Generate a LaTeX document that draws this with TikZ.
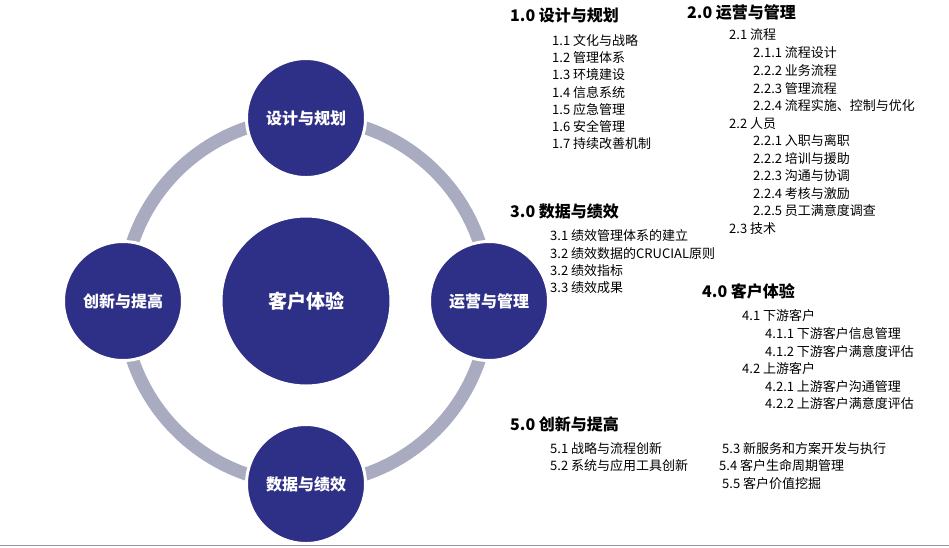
\documentclass[tikz,border=0pt]{standalone}
\usepackage{fontspec}
\setmainfont{Noto Sans CJK SC}
\usepackage{tikz}
\usetikzlibrary{positioning}

\definecolor{navy}{HTML}{2E3087}
\definecolor{ringgray}{HTML}{A9ABC1}
\definecolor{rulegray}{HTML}{8E99A3}

\tikzset{
  disc/.style={circle,fill=navy,draw=white,line width=3pt,minimum size=119pt,inner sep=0pt,
    text=white,font=\fontsize{16}{18}\selectfont\bfseries},
  head/.style={anchor=west,inner sep=0pt,font=\fontsize{16}{18}\selectfont\bfseries},
  item/.style={anchor=west,inner sep=0pt,font=\fontsize{13}{15}\selectfont},
}

\begin{document}
\begin{tikzpicture}[x=1pt,y=-1pt] % ring of four discs round the hub, outline on the right
  \useasboundingbox (0,0) rectangle (949,547);
  \fill[white] (0,0) rectangle (949,547);

  \coordinate (mid) at (306,301);
  \draw[ringgray,line width=13pt] (mid) circle[radius=183pt];

  \node[disc,minimum size=170pt,font=\fontsize{19}{21}\selectfont\bfseries] (hub) at (mid) {客户体验};
  \node[disc] (plan) at (306,118) {设计与规划};
  \node[disc] (ops) at (489,301) {运营与管理};
  \node[disc] (perf) at (306,484) {数据与绩效};
  \node[disc] (innov) at (123,301) {创新与提高};

  % 1.0
  \node[head] (h1) at (510,15.5) {1.0 设计与规划};
  \node[item] at (552,40.5) {1.1 文化与战略};
  \node[item] at (552,57.7) {1.2 管理体系};
  \node[item] at (552,75) {1.3 环境建设};
  \node[item] at (552,92.2) {1.4 信息系统};
  \node[item] at (552,109.5) {1.5 应急管理};
  \node[item] at (552,126.7) {1.6 安全管理};
  \node[item] at (552,144) {1.7 持续改善机制};

  % 2.0
  \node[head] (h2) at (687,12) {2.0 运营与管理};
  \node[item] at (729,35) {2.1 流程};
  \node[item] at (753,52.5) {2.1.1 流程设计};
  \node[item] at (753,70.3) {2.2.2 业务流程};
  \node[item] at (753,88.1) {2.2.3 管理流程};
  \node[item] at (753,106) {2.2.4 流程实施、控制与优化};
  \node[item] at (729,124) {2.2 人员};
  \node[item] at (753,141) {2.2.1 入职与离职};
  \node[item] at (753,158.5) {2.2.2 培训与援助};
  \node[item] at (753,176) {2.2.3 沟通与协调};
  \node[item] at (753,193.5) {2.2.4 考核与激励};
  \node[item] at (753,211) {2.2.5 员工满意度调查};
  \node[item] at (729,229) {2.3 技术};

  % 3.0
  \node[head] (h3) at (510,211.5) {3.0 数据与绩效};
  \node[item] at (550,236) {3.1 绩效管理体系的建立};
  \node[item] at (550,253.5) {3.2 绩效数据的CRUCIAL原则};
  \node[item] at (550,271) {3.2 绩效指标};
  \node[item] at (550,288) {3.3 绩效成果};

  % 4.0
  \node[head] (h4) at (702,291.5) {4.0 客户体验};
  \node[item] at (742,316) {4.1 下游客户};
  \node[item] at (765,334) {4.1.1 下游客户信息管理};
  \node[item] at (765,351.5) {4.1.2 下游客户满意度评估};
  \node[item] at (742,369) {4.2 上游客户};
  \node[item] at (765,386.5) {4.2.1 上游客户沟通管理};
  \node[item] at (765,404) {4.2.2 上游客户满意度评估};

  % 5.0
  \node[head] (h5) at (510,424) {5.0 创新与提高};
  \node[item] at (550,449) {5.1 战略与流程创新};
  \node[item] at (550,466) {5.2 系统与应用工具创新};
  \node[item] at (722,449) {5.3 新服务和方案开发与执行};
  \node[item] at (719,466) {5.4 客户生命周期管理};
  \node[item] at (722,484) {5.5 客户价值挖掘};

  \draw[rulegray,line width=1.5pt] (0,545.5) -- (949,545.5);
\end{tikzpicture}
\end{document}
